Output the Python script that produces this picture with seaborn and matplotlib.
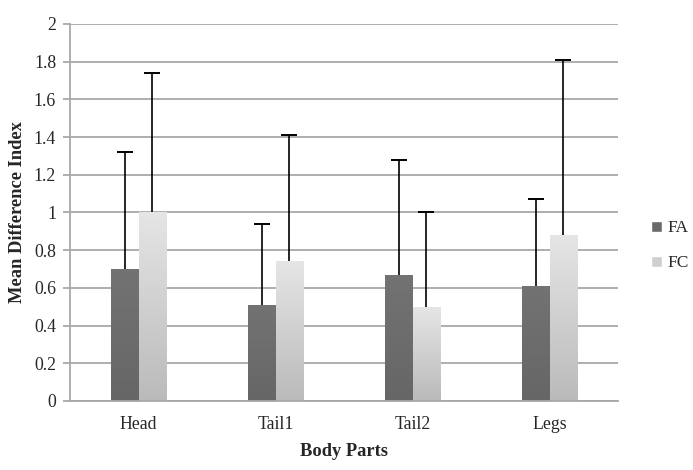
import numpy as np
import pandas as pd
import seaborn as sns
import matplotlib.pyplot as plt
from matplotlib.patches import Patch

# values
parts = ["Head", "Tail1", "Tail2", "Legs"]
fa_mean = [0.70, 0.51, 0.67, 0.61]
fc_mean = [1.00, 0.74, 0.50, 0.88]
fa_err = [0.62, 0.43, 0.61, 0.46]
fc_err = [0.74, 0.67, 0.50, 0.93]
groups = ["FA", "FC"]
yticks = [0, 0.2, 0.4, 0.6, 0.8, 1, 1.2, 1.4, 1.6, 1.8, 2]
ytick_labels = ["0", "0.2", "0.4", "0.6", "0.8", "1", "1.2", "1.4", "1.6", "1.8", "2"]

df = pd.DataFrame({
    "part": parts * 2,
    "group": ["FA"] * 4 + ["FC"] * 4,
    "mean": fa_mean + fc_mean,
    "err": fa_err + fc_err,
})

sns.set_style("white")
plt.rcParams['font.family'] = ['Liberation Serif', 'DejaVu Serif']

fig = plt.figure(figsize=(6.93, 4.70), dpi=100)
ax = fig.add_axes([0.101, 0.147, 0.791, 0.802])

palette = {"FA": "#6a6a6a", "FC": "#d2d2d2"}
sns.barplot(data=df, x="part", y="mean", hue="group", order=parts,
            hue_order=groups, palette=palette, width=0.4, gap=0,
            errorbar=None, saturation=1, linewidth=0, legend=False, ax=ax)

ax.set_ylim(0, 2)
ax.set_xlim(-0.5, 3.5)

# gradient fill on the bars + error bars (upper side only)
bars = ax.patches
grad_fa = np.linspace(0.45, 0.40, 256).reshape(-1, 1)
grad_fc = np.linspace(0.90, 0.73, 256).reshape(-1, 1)
for i, bar in enumerate(bars):
    x0, w, h = bar.get_x(), bar.get_width(), bar.get_height()
    g = grad_fa if i < 4 else grad_fc
    im = ax.imshow(np.dstack([g, g, g]), extent=[x0, x0 + w, 0, h],
                   aspect="auto", origin="upper", zorder=bar.get_zorder())
    im.set_clip_path(bar)
    err = df["err"].iloc[i]
    xc = x0 + w / 2
    ax.vlines(xc, h, h + err, color="black", linewidth=1.2, zorder=5)
    ax.plot([xc], [h + err], marker="_", markersize=11, markeredgewidth=1.4,
            color="black", zorder=5)

ax.set_yticks(yticks)
ax.set_yticklabels(ytick_labels)
ax.yaxis.grid(True, color="#a8a8a8", linewidth=1.3)
ax.set_axisbelow(True)
sns.despine(ax=ax, top=True, right=True)
for s in ["left", "bottom"]:
    ax.spines[s].set_color("#a8a8a8")
    ax.spines[s].set_linewidth(1.3)
ax.tick_params(axis="y", length=5, color="#a8a8a8", width=1.3,
               labelsize=12.8, pad=5, left=True)
ax.tick_params(axis="x", length=0, labelsize=12.8, pad=11)

ax.set_xlabel("Body Parts", fontsize=13.3, fontweight="bold", labelpad=7)
ax.set_ylabel("Mean Difference Index", fontsize=13.3, fontweight="bold",
              labelpad=6)

handles = [Patch(facecolor="#6a6a6a", label="FA"),
           Patch(facecolor="#cfcfcf", label="FC")]
fig.legend(handles=handles, loc="center left", bbox_to_anchor=(0.917, 0.477),
           frameon=False, fontsize=12.5, handlelength=0.6, handleheight=0.6,
           handletextpad=0.35, labelspacing=1.1)

fig.savefig("out.png", dpi=100)
